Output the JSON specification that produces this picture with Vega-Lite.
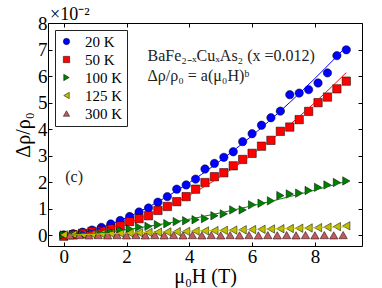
{
  "$schema": "https://vega.github.io/schema/vega-lite/v6.json",
  "width": 314,
  "height": 223,
  "autosize": {"type": "none"},
  "padding": {"left": 48, "top": 23, "right": 20, "bottom": 42},
  "config": {
    "view": {"stroke": "#000", "strokeWidth": 1},
    "axis": {"grid": false, "domain": false, "tickColor": "#000", "tickSize": -4, "labelFont": "Liberation Serif", "labelFontSize": 19, "labelColor": "#000", "titleFont": "Liberation Serif", "titleFontSize": 20, "titleFontWeight": "normal", "titleColor": "#000", "labelPadding": 5}
  },
  "datasets": {
    "pts": [
      {"T":"20 K","H":0.0,"v":0.02},{"T":"20 K","H":0.3,"v":0.06},{"T":"20 K","H":0.6,"v":0.12},{"T":"20 K","H":0.9,"v":0.2},{"T":"20 K","H":1.2,"v":0.3},{"T":"20 K","H":1.5,"v":0.43},{"T":"20 K","H":1.8,"v":0.56},{"T":"20 K","H":2.1,"v":0.71},{"T":"20 K","H":2.4,"v":0.88},{"T":"20 K","H":2.7,"v":1.03},{"T":"20 K","H":3.0,"v":1.25},{"T":"20 K","H":3.3,"v":1.46},{"T":"20 K","H":3.6,"v":1.74},{"T":"20 K","H":3.9,"v":1.9},{"T":"20 K","H":4.2,"v":2.12},{"T":"20 K","H":4.5,"v":2.5},{"T":"20 K","H":4.8,"v":2.71},{"T":"20 K","H":5.1,"v":2.94},{"T":"20 K","H":5.4,"v":3.15},{"T":"20 K","H":5.7,"v":3.53},{"T":"20 K","H":6.0,"v":3.83},{"T":"20 K","H":6.3,"v":4.15},{"T":"20 K","H":6.6,"v":4.43},{"T":"20 K","H":6.9,"v":4.68},{"T":"20 K","H":7.2,"v":5.3},{"T":"20 K","H":7.5,"v":5.36},{"T":"20 K","H":7.8,"v":5.49},{"T":"20 K","H":8.1,"v":5.74},{"T":"20 K","H":8.4,"v":6.12},{"T":"20 K","H":8.7,"v":6.77},{"T":"20 K","H":9.0,"v":6.99},
      {"T":"50 K","H":0.0,"v":-0.03},{"T":"50 K","H":0.3,"v":0.02},{"T":"50 K","H":0.6,"v":0.08},{"T":"50 K","H":0.9,"v":0.15},{"T":"50 K","H":1.2,"v":0.18},{"T":"50 K","H":1.5,"v":0.25},{"T":"50 K","H":1.8,"v":0.36},{"T":"50 K","H":2.1,"v":0.52},{"T":"50 K","H":2.4,"v":0.63},{"T":"50 K","H":2.7,"v":0.74},{"T":"50 K","H":3.0,"v":0.94},{"T":"50 K","H":3.3,"v":1.09},{"T":"50 K","H":3.6,"v":1.27},{"T":"50 K","H":3.9,"v":1.46},{"T":"50 K","H":4.2,"v":1.74},{"T":"50 K","H":4.5,"v":1.99},{"T":"50 K","H":4.8,"v":2.21},{"T":"50 K","H":5.1,"v":2.36},{"T":"50 K","H":5.4,"v":2.62},{"T":"50 K","H":5.7,"v":2.86},{"T":"50 K","H":6.0,"v":3.09},{"T":"50 K","H":6.3,"v":3.36},{"T":"50 K","H":6.6,"v":3.58},{"T":"50 K","H":6.9,"v":3.92},{"T":"50 K","H":7.2,"v":4.08},{"T":"50 K","H":7.5,"v":4.36},{"T":"50 K","H":7.8,"v":4.67},{"T":"50 K","H":8.1,"v":5.0},{"T":"50 K","H":8.4,"v":5.21},{"T":"50 K","H":8.7,"v":5.52},{"T":"50 K","H":9.0,"v":5.81},
      {"T":"100 K","H":0.0,"v":0.02},{"T":"100 K","H":0.3,"v":0.03},{"T":"100 K","H":0.6,"v":0.05},{"T":"100 K","H":0.9,"v":0.08},{"T":"100 K","H":1.2,"v":0.12},{"T":"100 K","H":1.5,"v":0.15},{"T":"100 K","H":1.8,"v":0.2},{"T":"100 K","H":2.1,"v":0.24},{"T":"100 K","H":2.4,"v":0.31},{"T":"100 K","H":2.7,"v":0.34},{"T":"100 K","H":3.0,"v":0.4},{"T":"100 K","H":3.3,"v":0.44},{"T":"100 K","H":3.6,"v":0.52},{"T":"100 K","H":3.9,"v":0.55},{"T":"100 K","H":4.2,"v":0.59},{"T":"100 K","H":4.5,"v":0.63},{"T":"100 K","H":4.8,"v":0.74},{"T":"100 K","H":5.1,"v":0.81},{"T":"100 K","H":5.4,"v":0.96},{"T":"100 K","H":5.7,"v":0.96},{"T":"100 K","H":6.0,"v":1.15},{"T":"100 K","H":6.3,"v":1.21},{"T":"100 K","H":6.6,"v":1.3},{"T":"100 K","H":6.9,"v":1.5},{"T":"100 K","H":7.2,"v":1.56},{"T":"100 K","H":7.5,"v":1.59},{"T":"100 K","H":7.8,"v":1.69},{"T":"100 K","H":8.1,"v":1.81},{"T":"100 K","H":8.4,"v":1.9},{"T":"100 K","H":8.7,"v":1.99},{"T":"100 K","H":9.0,"v":2.05},
      {"T":"125 K","H":0.0,"v":0.02},{"T":"125 K","H":0.3,"v":0.03},{"T":"125 K","H":0.6,"v":0.04},{"T":"125 K","H":0.9,"v":0.05},{"T":"125 K","H":1.2,"v":0.06},{"T":"125 K","H":1.5,"v":0.07},{"T":"125 K","H":1.8,"v":0.08},{"T":"125 K","H":2.1,"v":0.09},{"T":"125 K","H":2.4,"v":0.1},{"T":"125 K","H":2.7,"v":0.11},{"T":"125 K","H":3.0,"v":0.12},{"T":"125 K","H":3.3,"v":0.13},{"T":"125 K","H":3.6,"v":0.14},{"T":"125 K","H":3.9,"v":0.15},{"T":"125 K","H":4.2,"v":0.16},{"T":"125 K","H":4.5,"v":0.17},{"T":"125 K","H":4.8,"v":0.18},{"T":"125 K","H":5.1,"v":0.19},{"T":"125 K","H":5.4,"v":0.2},{"T":"125 K","H":5.7,"v":0.21},{"T":"125 K","H":6.0,"v":0.22},{"T":"125 K","H":6.3,"v":0.23},{"T":"125 K","H":6.6,"v":0.24},{"T":"125 K","H":6.9,"v":0.25},{"T":"125 K","H":7.2,"v":0.26},{"T":"125 K","H":7.5,"v":0.27},{"T":"125 K","H":7.8,"v":0.28},{"T":"125 K","H":8.1,"v":0.29},{"T":"125 K","H":8.4,"v":0.31},{"T":"125 K","H":8.7,"v":0.33},{"T":"125 K","H":9.0,"v":0.36},
      {"T":"300 K","H":0.2,"v":0.0},{"T":"300 K","H":0.5,"v":0.01},{"T":"300 K","H":0.8,"v":0.0},{"T":"300 K","H":1.1,"v":0.01},{"T":"300 K","H":1.4,"v":0.0},{"T":"300 K","H":1.7,"v":0.01},{"T":"300 K","H":2.0,"v":0.0},{"T":"300 K","H":2.3,"v":0.01},{"T":"300 K","H":2.6,"v":0.0},{"T":"300 K","H":2.9,"v":0.01},{"T":"300 K","H":3.2,"v":0.0},{"T":"300 K","H":3.5,"v":0.01},{"T":"300 K","H":3.8,"v":0.0},{"T":"300 K","H":4.1,"v":0.01},{"T":"300 K","H":4.4,"v":0.0},{"T":"300 K","H":4.7,"v":0.01},{"T":"300 K","H":5.0,"v":0.0},{"T":"300 K","H":5.3,"v":0.01},{"T":"300 K","H":5.6,"v":0.0},{"T":"300 K","H":5.9,"v":0.01},{"T":"300 K","H":6.2,"v":0.0},{"T":"300 K","H":6.5,"v":0.01},{"T":"300 K","H":6.8,"v":0.0},{"T":"300 K","H":7.1,"v":0.01},{"T":"300 K","H":7.4,"v":0.0},{"T":"300 K","H":7.7,"v":0.01},{"T":"300 K","H":8.0,"v":0.0},{"T":"300 K","H":8.3,"v":0.01},{"T":"300 K","H":8.6,"v":0.0},{"T":"300 K","H":8.9,"v":0.01}
    ],
    "notes": [
      {"H":2.67,"v":6.75,"label":"BaFe₂₋ₓCuₓAs₂ (x =0.012)"},
      {"H":2.67,"v":6.0,"label":"Δρ/ρ₀ = a(μ₀H)ᵇ"},
      {"H":0.05,"v":2.2,"label":"(c)"}
    ],
    "exponent": [
      {"H":-0.5,"v":8,"label":"×10⁻²"}
    ]
  },
  "resolve": {"axis": {"x": "independent", "y": "independent"}},
  "layer": [
    {
      "data": {"name": "pts"},
      "mark": {"type": "point", "filled": true, "opacity": 1, "stroke": "#000", "strokeWidth": 0.5, "size": 70},
      "encoding": {
        "x": {"field": "H", "type": "quantitative", "scale": {"domain": [-0.5, 9.5], "nice": false, "zero": false}, "axis": {"orient": "bottom", "title": "μ₀H (T)", "values": [0, 2, 4, 6, 8], "titlePadding": 0}},
        "y": {"field": "v", "type": "quantitative", "scale": {"domain": [-0.4, 8], "nice": false, "zero": false}, "axis": {"orient": "left", "title": "Δρ/ρ₀", "values": [0, 1, 2, 3, 4, 5, 6, 7, 8], "titlePadding": 4}},
        "color": {"field": "T", "type": "nominal", "sort": ["20 K", "50 K", "100 K", "125 K", "300 K"],
          "scale": {"domain": ["20 K", "50 K", "100 K", "125 K", "300 K"], "range": ["#0000ff", "#ff0000", "#008000", "#bfbf00", "#c45a5a"]},
          "legend": {"title": null, "orient": "top-left", "offset": 7, "strokeColor": "#222222", "fillColor": "#ffffff", "padding": 4, "cornerRadius": 0, "labelFont": "Liberation Serif", "labelFontSize": 15, "labelColor": "#000", "symbolSize": 40, "symbolStrokeWidth": 0.5, "labelOffset": 11, "rowPadding": 2}},
        "shape": {"field": "T", "type": "nominal", "sort": ["20 K", "50 K", "100 K", "125 K", "300 K"],
          "scale": {"domain": ["20 K", "50 K", "100 K", "125 K", "300 K"], "range": ["circle", "square", "triangle-right", "triangle-left", "triangle-up"]}}
      }
    },
    {
      "data": {"name": "pts"},
      "transform": [
        {"filter": "datum.T != '300 K' && datum.H >= 1.5 && datum.v > 0"},
        {"regression": "v", "on": "H", "groupby": ["T"], "method": "pow", "extent": [0.15, 9.0]}
      ],
      "mark": {"type": "line", "strokeWidth": 1},
      "encoding": {
        "x": {"field": "H", "type": "quantitative", "axis": {"orient": "top", "labels": false, "title": null, "values": [0, 2, 4, 6, 8]}},
        "y": {"field": "v", "type": "quantitative", "axis": {"orient": "right", "labels": false, "title": null, "values": [0, 1, 2, 3, 4, 5, 6, 7, 8]}},
        "stroke": {"field": "T", "type": "nominal", "legend": null,
          "scale": {"domain": ["20 K", "50 K", "100 K", "125 K"], "range": ["#0000ff", "#ff0000", "#008000", "#bfbf00"]}}
      }
    },
    {
      "data": {"name": "notes"},
      "mark": {"type": "text", "align": "left", "baseline": "middle", "font": "Liberation Serif", "fontSize": 16, "color": "#222"},
      "encoding": {
        "x": {"field": "H", "type": "quantitative", "axis": null},
        "y": {"field": "v", "type": "quantitative", "axis": null},
        "text": {"field": "label"}
      }
    },
    {
      "data": {"name": "exponent"},
      "mark": {"type": "text", "align": "left", "baseline": "bottom", "font": "Liberation Serif", "fontSize": 18, "color": "#000", "dx": 2, "dy": 1},
      "encoding": {
        "x": {"field": "H", "type": "quantitative", "axis": null},
        "y": {"field": "v", "type": "quantitative", "axis": null},
        "text": {"field": "label"}
      }
    }
  ]
}
